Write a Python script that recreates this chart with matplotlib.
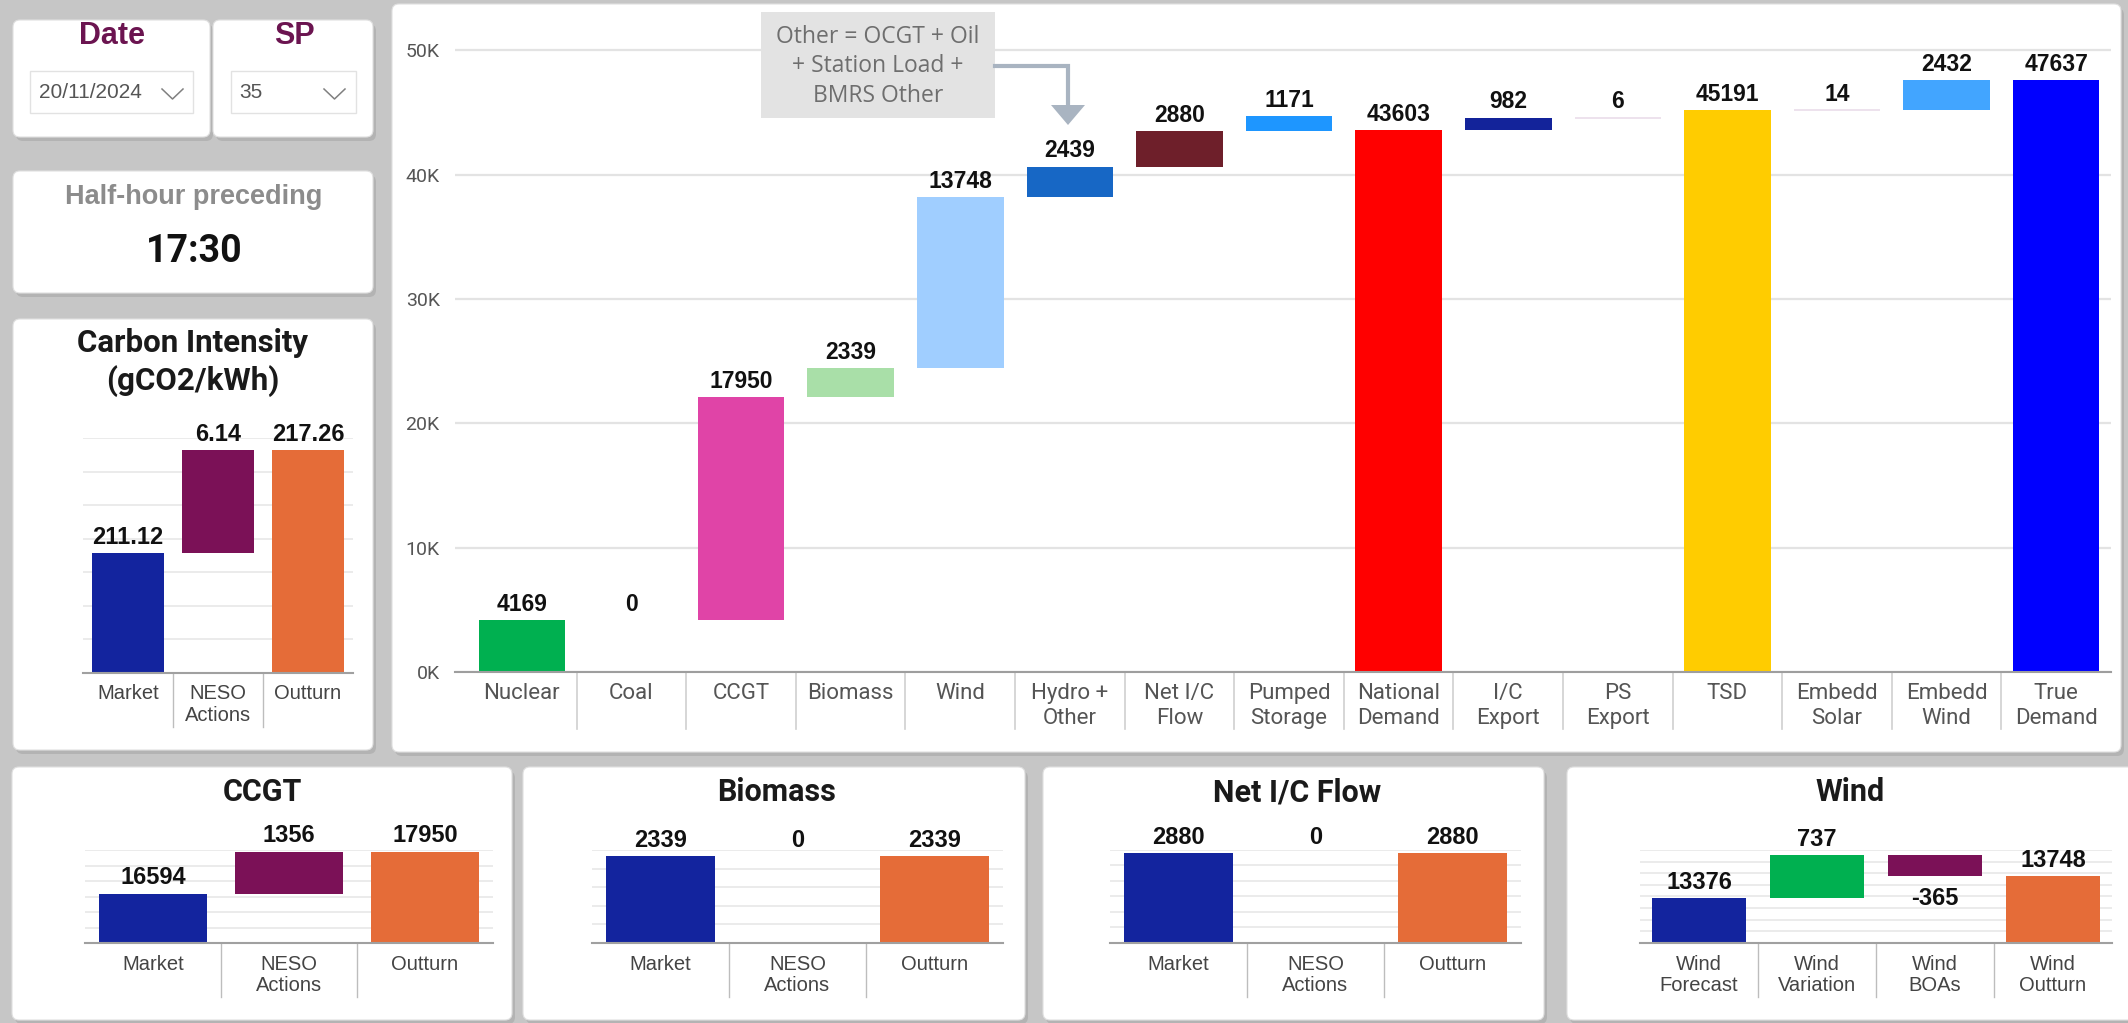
import matplotlib.pyplot as plt
import numpy as np
from matplotlib.patches import FancyBboxPatch, Rectangle, Polygon
from matplotlib.transforms import blended_transform_factory

W, H = 2128, 1023

# main waterfall
main_labels = ["Nuclear", "Coal", "CCGT", "Biomass", "Wind", "Hydro +\nOther", "Net I/C\nFlow",
               "Pumped\nStorage", "National\nDemand", "I/C\nExport", "PS\nExport", "TSD",
               "Embedd\nSolar", "Embedd\nWind", "True\nDemand"]
main_values = [4169, 0, 17950, 2339, 13748, 2439, 2880, 1171, 43603, 982, 6, 45191, 14, 2432, 47637]
main_totals = [False, False, False, False, False, False, False, False, True,
               False, False, True, False, False, True]
main_colors = ["#00B050", "#404040", "#E044A7", "#A9DFA8", "#A0CEFF", "#1767C5", "#6E1F2A",
               "#1E96FF", "#FF0000", "#13239A", "#EADDEA", "#FFCC00", "#EADDEA", "#42A5FF", "#0000FF"]
main_yticks = [0, 10000, 20000, 30000, 40000, 50000]
main_yticklabels = ["0K", "10K", "20K", "30K", "40K", "50K"]

# carbon intensity
carbon_labels = ["Market", "NESO\nActions", "Outturn"]
carbon_values = [211.12, 6.14, 217.26]
carbon_totals = [True, False, True]

# bottom panels
action_labels = ["Market", "NESO\nActions", "Outturn"]
action_totals = [True, False, True]
action_colors = ["#13249E", "#7B1157", "#E56C38"]
ccgt_values = [16594, 1356, 17950]
biomass_values = [2339, 0, 2339]
ic_values = [2880, 0, 2880]

wind_labels = ["Wind\nForecast", "Wind\nVariation", "Wind\nBOAs", "Wind\nOutturn"]
wind_values = [13376, 737, -365, 13748]
wind_totals = [True, False, False, True]
wind_colors = ["#13249E", "#00B050", "#7B1157", "#E56C38"]

date_text = "20/11/2024"
sp_text = "35"
time_text = "17:30"
note_lines = ["Other = OCGT + Oil", "+ Station Load +", "BMRS Other"]


def waterfall(values, totals):
    bottoms, heights = [], []
    run = 0
    for v, t in zip(values, totals):
        if t:
            bottoms.append(0)
            run = v
        else:
            bottoms.append(run)
            run += v
        heights.append(v)
    return np.array(bottoms, float), np.array(heights, float)


def rect(x0, y0, x1, y1):
    return [x0 / W, 1 - y1 / H, (x1 - x0) / W, (y1 - y0) / H]


fig = plt.figure(figsize=(W / 100, H / 100), dpi=100, facecolor="#C6C6C6")
bg = fig.add_axes([0, 0, 1, 1])
bg.set_xlim(0, W)
bg.set_ylim(H, 0)
bg.axis("off")


def panel(x0, y0, x1, y1):
    bg.add_patch(FancyBboxPatch((x0 + 3, y0 + 4), x1 - x0, y1 - y0,
                                boxstyle="round,pad=0,rounding_size=7",
                                fc="#ABABAB", ec="none", alpha=0.7))
    bg.add_patch(FancyBboxPatch((x0, y0), x1 - x0, y1 - y0,
                                boxstyle="round,pad=0,rounding_size=7",
                                fc="white", ec="#E0E0E0", lw=0.8))


for p in [(13, 20, 210, 137), (213, 20, 373, 137), (13, 171, 373, 293), (13, 319, 373, 750),
          (392, 4, 2121, 752), (12, 767, 512, 1020), (523, 767, 1025, 1020),
          (1043, 767, 1544, 1020), (1567, 767, 2140, 1020)]:
    panel(*p)

# slicers
bg.text(112, 36, "Date", ha="center", va="center", fontsize=22, weight="bold",
        color="#6B1450", family="Liberation Sans")
bg.text(294, 36, "SP", ha="center", va="center", fontsize=22, weight="bold",
        color="#6B1450", family="Liberation Sans")
bg.add_patch(Rectangle((30, 71), 163, 42, fc="white", ec="#E2E2E2", lw=1))
bg.text(39, 92, date_text, ha="left", va="center", fontsize=15, color="#555555",
        family="Liberation Sans")
bg.plot([162, 172.5, 183], [89, 99, 89], color="#808080", lw=1.1)
bg.add_patch(Rectangle((231, 71), 125, 42, fc="white", ec="#E2E2E2", lw=1))
bg.text(239, 92, sp_text, ha="left", va="center", fontsize=15, color="#555555",
        family="Liberation Sans")
bg.plot([324, 334.5, 345], [89, 99, 89], color="#808080", lw=1.1)

bg.text(194, 197, "Half-hour preceding", ha="center", va="center", fontsize=19.5,
        weight="bold", color="#8C8C8C", family="Liberation Sans")
bg.text(194, 252, time_text, ha="center", va="center", fontsize=27, weight="bold",
        color="#111111", family="Roboto")

# titles
bg.text(193, 343, "Carbon Intensity", ha="center", va="center", fontsize=22.5,
        weight="bold", color="#1A1A1A", family="Roboto")
bg.text(193, 381, "(gCO2/kWh)", ha="center", va="center", fontsize=22.5,
        weight="bold", color="#1A1A1A", family="Roboto")
for tx, title in [(262, "CCGT"), (777, "Biomass"), (1297, "Net I/C Flow"), (1850, "Wind")]:
    bg.text(tx, 792, title, ha="center", va="center", fontsize=22, weight="bold",
            color="#1A1A1A", family="Roboto")


def small_chart(px, labels, values, totals, colors, ylim, step, fmt, lab_fs, lab_ls, lab_pad, sep_px):
    x0, y0, x1, y1 = px
    ax = fig.add_axes(rect(x0, y0, x1, y1))
    ax.patch.set_alpha(0)
    b, h = waterfall(values, totals)
    x = np.arange(len(values))
    ax.bar(x, h, bottom=b, width=0.79, color=colors, linewidth=0, zorder=2)
    ax.set_xlim(-0.5, len(values) - 0.5)
    ax.set_ylim(*ylim)
    ax.set_yticks(np.arange(ylim[0], ylim[1] + step / 2, step))
    ax.yaxis.grid(True, color="#E8E8E8", lw=1.2)
    ax.set_axisbelow(True)
    ax.tick_params(axis="y", length=0, labelleft=False)
    for s in ["top", "right", "left"]:
        ax.spines[s].set_visible(False)
    ax.spines["bottom"].set_color("#A0A0A0")
    ax.spines["bottom"].set_linewidth(1.5)
    ax.set_xticks(x)
    ax.set_xticklabels(labels, fontsize=lab_fs, color="#444444", family="Liberation Sans",
                       linespacing=lab_ls)
    ax.tick_params(axis="x", length=0, pad=lab_pad)
    trans = blended_transform_factory(ax.transData, ax.transAxes)
    depth = sep_px / (y1 - y0)
    for i in range(1, len(values)):
        ax.plot([i - 0.5, i - 0.5], [0, -depth], transform=trans, color="#BDBDBD",
                lw=1, clip_on=False)
    for xi, bi, hi, v in zip(x, b, h, values):
        if v >= 0:
            ax.annotate(fmt.format(v), (xi, bi + hi), xytext=(0, 3), textcoords="offset points",
                        ha="center", va="bottom", fontsize=17, weight="bold",
                        family="Liberation Sans", color="#111111", annotation_clip=False)
        else:
            ax.annotate(fmt.format(v), (xi, bi + hi), xytext=(0, -8), textcoords="offset points",
                        ha="center", va="top", fontsize=17, weight="bold",
                        family="Liberation Sans", color="#111111", annotation_clip=False)
    return ax


small_chart((83, 438, 353, 673), carbon_labels, carbon_values, carbon_totals, action_colors,
            (204, 218), 2, "{:.2f}", 14.5, 1.2, 8, 54)
small_chart((85, 850, 493, 943), action_labels, ccgt_values, action_totals, action_colors,
            (15000, 18000), 500, "{:d}", 14.5, 1.1, 9, 54)
small_chart((592, 850, 1003, 943), action_labels, biomass_values, action_totals, action_colors,
            (1871, 2371), 100, "{:d}", 14.5, 1.1, 9, 54)
small_chart((1110, 850, 1521, 943), action_labels, ic_values, action_totals, action_colors,
            (2301, 2901), 100, "{:d}", 14.5, 1.1, 9, 54)
small_chart((1640, 850, 2112, 943), wind_labels, wind_values, wind_totals, wind_colors,
            (12600, 14200), 200, "{:d}", 14.5, 1.1, 9, 54)

# main chart
ax = fig.add_axes(rect(455, 13, 2111, 672))
ax.patch.set_alpha(0)
b, h = waterfall(main_values, main_totals)
x = np.arange(len(main_values))
lws = [1.2 if 0 < v < 50 else 0 for v in main_values]
ax.bar(x, h, bottom=b, width=0.79, color=main_colors, edgecolor=main_colors,
       linewidth=lws, zorder=2)
ax.set_xlim(-0.61, len(main_values) - 0.5)
ax.set_ylim(0, 53000)
ax.set_yticks(main_yticks)
ax.set_yticklabels(main_yticklabels, fontsize=14, color="#555555", family="Roboto")
ax.yaxis.grid(True, color="#E3E3E3", lw=1.6)
ax.set_axisbelow(True)
ax.tick_params(axis="y", length=0, pad=11)
for s in ["top", "right", "left"]:
    ax.spines[s].set_visible(False)
ax.spines["bottom"].set_color("#9E9E9E")
ax.spines["bottom"].set_linewidth(1.5)
ax.set_xticks(x)
ax.set_xticklabels(main_labels, fontsize=16, color="#555555", family="Roboto", linespacing=1.25)
ax.tick_params(axis="x", length=0, pad=8)
trans = blended_transform_factory(ax.transData, ax.transAxes)
for i in range(1, len(main_values)):
    ax.plot([i - 0.5, i - 0.5], [0, -57 / 659], transform=trans, color="#CFCFCF",
            lw=1.2, clip_on=False)
for xi, bi, hi, v in zip(x, b, h, main_values):
    ax.annotate(str(v), (xi, bi + hi), xytext=(0, 3), textcoords="offset points",
                ha="center", va="bottom", fontsize=16.5, weight="bold",
                family="Liberation Sans", color="#111111", annotation_clip=False)

# note box with arrow
ov = fig.add_axes([0, 0, 1, 1], zorder=10)
ov.set_xlim(0, W)
ov.set_ylim(H, 0)
ov.axis("off")
ov.add_patch(Rectangle((761, 12), 234, 106, fc="#E3E3E3", ec="none"))
for ly, line in zip([37, 66, 96], note_lines):
    ov.text(878, ly, line, ha="center", va="center", fontsize=16.5, color="#6E6E6E",
            family="Open Sans")
ov.plot([995, 1068, 1068], [66, 66, 106], color="#A9B4C1", lw=3, solid_joinstyle="miter")
ov.add_patch(Polygon([[1051, 105], [1085, 105], [1068, 125]], closed=True,
                     fc="#A9B4C1", ec="none"))

fig.savefig("out.png", dpi=100, facecolor=fig.get_facecolor())
